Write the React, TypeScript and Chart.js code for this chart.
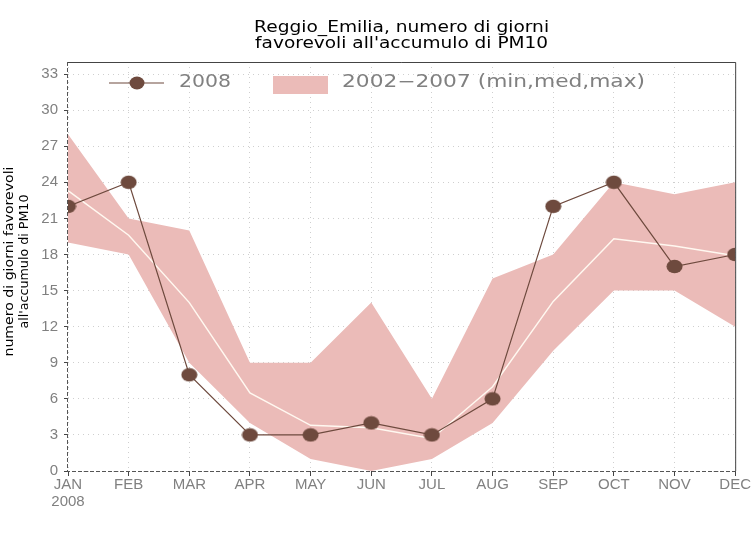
import React, { useEffect, useRef } from "react";
import { Chart, registerables } from "chart.js";

Chart.register(...registerables);

// ---------- data ----------
const months = ["JAN", "FEB", "MAR", "APR", "MAY", "JUN", "JUL", "AUG", "SEP", "OCT", "NOV", "DEC"];
const yearLabel = "2008";
const values2008 = [22, 24, 8, 3, 3, 4, 3, 6, 22, 24, 17, 18];
const histMax = [28, 21, 20, 9, 9, 14, 6, 16, 18, 24, 23, 24];
const histMed = [23.3, 19.6, 14, 6.5, 3.8, 3.6, 2.7, 7, 14.1, 19.3, 18.7, 17.9];
const histMin = [19, 18, 9, 4, 1, 0, 1, 4, 10, 15, 15, 12];
const yTickValues = [0, 3, 6, 9, 12, 15, 18, 21, 24, 27, 30, 33];
const titleLines = ["Reggio_Emilia, numero di giorni", "favorevoli all'accumulo di PM10"];
const yTitleLines = ["numero di giorni favorevoli", "all'accumulo di PM10"];
const legendSeriesLabel = "2008";
const legendBandLabel = "2002\u22122007 (min,med,max)";

const BAND = "#ebbbb8";
const BROWN = "#6e4a3e";
const GRAY_TEXT = "#808080";

function makeMarker(): HTMLCanvasElement {
  const c = document.createElement("canvas");
  c.width = 17;
  c.height = 15;
  const g = c.getContext("2d")!;
  g.fillStyle = BROWN;
  g.beginPath();
  g.ellipse(8.5, 7.5, 8, 6.8, 0, 0, Math.PI * 2);
  g.fill();
  return c;
}

function stretchText(
  ctx: CanvasRenderingContext2D,
  text: string,
  x: number,
  y: number,
  targetWidth: number,
  font: string,
  color: string,
  align: "left" | "center" = "left"
) {
  ctx.save();
  ctx.font = font;
  ctx.fillStyle = color;
  ctx.textBaseline = "middle";
  ctx.textAlign = "left";
  const w = ctx.measureText(text).width;
  const s = targetWidth / w;
  const left = align === "center" ? x - targetWidth / 2 : x;
  ctx.translate(left, y);
  ctx.scale(s, 1);
  ctx.fillText(text, 0, 0);
  ctx.restore();
}

const decorPlugin = {
  id: "decor",
  afterDatasetsDraw(chart: any) {
    const { ctx, chartArea } = chart;
    const { left, right, top, bottom } = chartArea;
    // frame
    ctx.save();
    ctx.strokeStyle = "#444";
    ctx.lineWidth = 1;
    ctx.beginPath();
    ctx.moveTo(left, top + 0.5);
    ctx.lineTo(right + 0.5, top + 0.5);
    ctx.lineTo(right + 0.5, bottom);
    ctx.stroke();
    ctx.setLineDash([4, 2]);
    ctx.strokeStyle = "#555";
    ctx.beginPath();
    ctx.moveTo(left - 0.5, top);
    ctx.lineTo(left - 0.5, bottom + 0.5);
    ctx.lineTo(right + 0.5, bottom + 0.5);
    ctx.stroke();
    ctx.restore();

    // legend
    ctx.save();
    ctx.strokeStyle = BROWN;
    ctx.lineWidth = 1.2;
    ctx.beginPath();
    ctx.moveTo(109, 83);
    ctx.lineTo(164, 83);
    ctx.stroke();
    ctx.fillStyle = BROWN;
    ctx.beginPath();
    ctx.ellipse(137, 83, 7.5, 6.5, 0, 0, Math.PI * 2);
    ctx.fill();
    ctx.fillStyle = BAND;
    ctx.fillRect(273, 76, 55, 18);
    ctx.restore();
    stretchText(ctx, legendSeriesLabel, 179, 83, 52, "17px 'DejaVu Sans'", GRAY_TEXT);
    stretchText(ctx, legendBandLabel, 342, 83, 303, "17px 'DejaVu Sans'", GRAY_TEXT);

    // title
    const cx = (left + right) / 2;
    stretchText(ctx, titleLines[0], cx, 28, 295, "15px 'DejaVu Sans'", "#000", "center");
    stretchText(ctx, titleLines[1], cx, 44, 293, "15px 'DejaVu Sans'", "#000", "center");

    // y title (rotated)
    const yc = (top + bottom) / 2 - 5;
    ctx.save();
    ctx.translate(10, yc);
    ctx.rotate(-Math.PI / 2);
    stretchText(ctx, yTitleLines[0], 0, 0, 190, "13px 'DejaVu Sans'", "#000", "center");
    ctx.restore();
    ctx.save();
    ctx.translate(25, yc);
    ctx.rotate(-Math.PI / 2);
    stretchText(ctx, yTitleLines[1], 0, 0, 134, "13px 'DejaVu Sans'", "#000", "center");
    ctx.restore();
  },
};

export default function App() {
  const ref = useRef<HTMLCanvasElement | null>(null);

  useEffect(() => {
    if (!ref.current) return;
    const labels = months.map((m, i) => (i === 0 ? [m, yearLabel] : m));
    const marker = makeMarker();
    const chart = new Chart(ref.current, {
      type: "line",
      data: {
        labels,
        datasets: [
          {
            label: "max",
            data: histMax,
            borderWidth: 0,
            borderColor: "rgba(0,0,0,0)",
            backgroundColor: BAND,
            pointRadius: 0,
            fill: "+1",
            tension: 0,
            order: 4,
          },
          {
            label: "min",
            data: histMin,
            borderWidth: 0,
            borderColor: "rgba(0,0,0,0)",
            backgroundColor: BAND,
            pointRadius: 0,
            fill: false,
            tension: 0,
            order: 3,
          },
          {
            label: "med",
            data: histMed,
            borderWidth: 1.5,
            borderColor: "#fff8f0",
            pointRadius: 0,
            fill: false,
            tension: 0,
            order: 2,
          },
          {
            label: "2008",
            data: values2008,
            borderWidth: 1.2,
            borderColor: BROWN,
            backgroundColor: BROWN,
            pointStyle: marker,
            pointRadius: 8,
            pointBorderWidth: 0,
            fill: false,
            tension: 0,
            clip: { left: 0, right: 0, top: 10, bottom: 10 },
            order: 1,
          },
        ],
      },
      options: {
        animation: false,
        responsive: false,
        devicePixelRatio: 1,
        layout: { padding: { left: 0, right: 14, top: 62, bottom: 0 } },
        plugins: {
          legend: { display: false },
          title: { display: false },
          tooltip: { enabled: false },
        },
        scales: {
          x: {
            type: "category",
            offset: false,
            afterFit: (s: any) => {
              s.height = 63;
            },
            grid: {
              color: "#cfcfcf",
              borderDash: [1, 4],
              tickColor: "#444",
              tickLength: 5,
              tickBorderDash: [],
              drawTicks: true,
            },
            border: { display: false, dash: [1, 4] },
            ticks: {
              color: GRAY_TEXT,
              font: { family: "'Liberation Sans', Arial, sans-serif", size: 15, lineHeight: 1.1 },
              padding: 1,
              maxRotation: 0,
              autoSkip: false,
            },
          },
          y: {
            min: 0,
            max: 34,
            afterFit: (s: any) => {
              s.width = 68;
            },
            afterBuildTicks: (s: any) => {
              s.ticks = yTickValues.map((v) => ({ value: v }));
            },
            grid: {
              color: "#cfcfcf",
              borderDash: [1, 4],
              tickColor: "#444",
              tickLength: 4,
              tickBorderDash: [],
            },
            border: { display: false, dash: [1, 4] },
            ticks: {
              color: GRAY_TEXT,
              font: { family: "'Liberation Sans', Arial, sans-serif", size: 15 },
              padding: 6,
            },
          },
        },
      },
      plugins: [decorPlugin],
    });
    return () => chart.destroy();
  }, []);

  return (
    <div style={{ position: "absolute", left: 0, top: 0, width: 752, height: 534, background: "#fff" }}>
      <canvas ref={ref} width={752} height={534} style={{ display: "block" }} />
    </div>
  );
}
